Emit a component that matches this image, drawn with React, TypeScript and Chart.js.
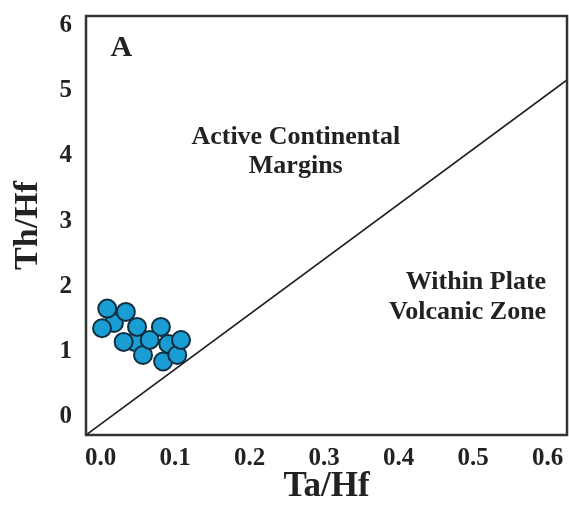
import React, { useEffect, useRef } from "react";
import { Chart, registerables } from "chart.js";

Chart.register(...registerables);

// Sample points (Ta/Hf, Th/Hf), drawn in this order
const taHf = [0.046, 0.091, 0.018, 0.009, 0.034, 0.002, 0.049, 0.081, 0.031, 0.057, 0.084, 0.103, 0.066, 0.108];
const thHf = [1.15, 1.12, 1.44, 1.66, 1.61, 1.36, 1.38, 1.38, 1.15, 0.95, 0.85, 0.95, 1.18, 1.18];

// Discriminant line
const boundaryX = [-0.0195, 0.626];
const boundaryY = [-0.275, 5.16];

// Axis ranges & ticks
const xMin = -0.0195;
const xMax = 0.626;
const yMin = -0.275;
const yMax = 6.14;
const xTicks = [0, 0.1, 0.2, 0.3, 0.4, 0.5, 0.6];
const yTicks = [0, 1, 2, 3, 4, 5, 6];

// Annotations
const noteText = ["A", "Active Continental", "Margins", "Within Plate", "Volcanic Zone"];
const noteX = [0.028, 0.262, 0.262, 0.598, 0.598];
const noteY = [5.64, 4.28, 3.84, 2.07, 1.6];
const noteAlign = ["center", "center", "center", "right", "right"];
const noteSize = [30, 26, 26, 26, 26];

const FONT = "'Liberation Serif', 'Times New Roman', serif";
const INK = "#222222";

const framePlugin = {
  id: "frame",
  afterDraw(chart: any) {
    const { ctx, chartArea: a } = chart;
    ctx.save();
    ctx.strokeStyle = "#333333";
    ctx.lineWidth = 2.5;
    ctx.strokeRect(a.left, a.top, a.right - a.left, a.bottom - a.top);
    ctx.restore();
  },
};

const notesPlugin = {
  id: "notes",
  afterDatasetsDraw(chart: any) {
    const { ctx, scales } = chart;
    ctx.save();
    ctx.fillStyle = INK;
    ctx.textBaseline = "middle";
    noteText.forEach((t, i) => {
      ctx.font = `bold ${noteSize[i]}px ${FONT}`;
      ctx.textAlign = noteAlign[i] as CanvasTextAlign;
      ctx.fillText(t, scales.x.getPixelForValue(noteX[i]), scales.y.getPixelForValue(noteY[i]));
    });
    ctx.restore();
  },
};

const zeroPad = (s: any) => {
  s.paddingTop = 0;
  s.paddingBottom = 0;
  s.paddingLeft = 0;
  s.paddingRight = 0;
};

export default function App() {
  const ref = useRef<HTMLCanvasElement>(null);
  useEffect(() => {
    const chart = new Chart(ref.current!, {
      type: "scatter",
      data: {
        datasets: [
          {
            type: "line",
            data: boundaryX.map((x, i) => ({ x, y: boundaryY[i] })),
            borderColor: "#1e1e1e",
            borderWidth: 1.6,
            pointRadius: 0,
            fill: false,
          } as any,
          {
            data: taHf.map((x, i) => ({ x, y: thHf[i] })),
            backgroundColor: "#1a9dd3",
            borderColor: "#0f2f40",
            borderWidth: 2,
            pointRadius: 9,
          },
        ],
      },
      options: {
        animation: false,
        responsive: false,
        layout: { autoPadding: false, padding: { top: 16, right: 2, left: 0, bottom: 0 } },
        plugins: { legend: { display: false }, tooltip: { enabled: false } },
        scales: {
          x: {
            type: "linear",
            min: xMin,
            max: xMax,
            grid: { display: false, drawTicks: false },
            border: { display: false },
            afterBuildTicks: (s: any) => {
              s.ticks = xTicks.map((v) => ({ value: v }));
            },
            afterFit: (s: any) => {
              s.height = 73;
              zeroPad(s);
            },
            ticks: {
              padding: 9,
              color: INK,
              font: { family: FONT, size: 25, weight: "bold" },
              callback: (v: any) => Number(v).toFixed(1),
            },
            title: {
              display: true,
              text: "Ta/Hf",
              color: INK,
              padding: { top: 0, bottom: 0 },
              font: { family: FONT, size: 35, weight: "bold" },
            },
          },
          y: {
            type: "linear",
            min: yMin,
            max: yMax,
            grid: { display: false, drawTicks: false },
            border: { display: false },
            afterBuildTicks: (s: any) => {
              s.ticks = yTicks.map((v) => ({ value: v }));
            },
            afterFit: (s: any) => {
              s.width = 86;
              zeroPad(s);
            },
            ticks: {
              padding: 14,
              color: INK,
              font: { family: FONT, size: 25, weight: "bold" },
              callback: (v: any) => String(v),
            },
            title: {
              display: true,
              text: "Th/Hf",
              color: INK,
              padding: { top: 8, bottom: 0 },
              font: { family: FONT, size: 34, weight: "bold" },
            },
          },
        },
      },
      plugins: [framePlugin, notesPlugin],
    });
    return () => chart.destroy();
  }, []);
  return (
    <div style={{ position: "absolute", left: 0, top: 0, width: 569, height: 508, background: "#fff" }}>
      <canvas ref={ref} width={569} height={508} />
    </div>
  );
}
